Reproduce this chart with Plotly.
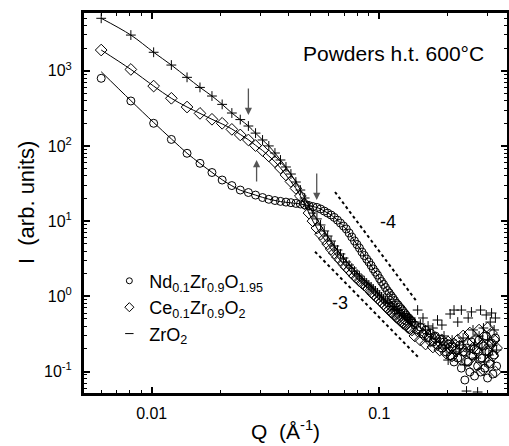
import math
import plotly.graph_objects as go

# ---------------- data ----------------
Q = [0.0060, 0.0081, 0.0102, 0.0122, 0.0143, 0.0163, 0.0184, 0.0204, 0.0225, 0.0245,
     0.0266, 0.0286, 0.0307, 0.0327, 0.0348, 0.0368, 0.0389, 0.0409, 0.0430, 0.0450,
     0.0470, 0.0491, 0.0511, 0.0532, 0.0552, 0.0573, 0.0593, 0.0614, 0.0634, 0.0655,
     0.0675, 0.0696, 0.0716, 0.0737, 0.0757, 0.0778, 0.0798, 0.0818, 0.0839, 0.0859,
     0.0880, 0.0900, 0.0921, 0.0941, 0.0962, 0.0982, 0.1003, 0.1023, 0.1044, 0.1064,
     0.1085, 0.1105, 0.1126, 0.1146, 0.1167, 0.1187, 0.1208, 0.1228, 0.1249, 0.1269,
     0.1290, 0.1310, 0.1331, 0.1351, 0.1372, 0.1392,
     0.1433, 0.1474, 0.1515, 0.1556, 0.1597, 0.1638, 0.1679, 0.1720, 0.1761, 0.1802,
     0.1843, 0.1884, 0.1925, 0.1966, 0.2007, 0.2048, 0.2089, 0.2130, 0.2171, 0.2212,
     0.2253, 0.2294, 0.2335, 0.2376, 0.2417, 0.2458, 0.2499, 0.2540, 0.2581, 0.2622,
     0.2663, 0.2704, 0.2745, 0.2786, 0.2827, 0.2868, 0.2909, 0.2950, 0.2991, 0.3032,
     0.3073, 0.3114, 0.3155, 0.3196, 0.3237, 0.3278]

I_nd = [793, 396, 200, 122, 79.8, 58.7, 44.3, 35.2, 29.7, 25.9,
        24.0, 22.2, 20.6, 19.5, 18.8, 18.3, 17.9, 17.6, 17.2, 16.9,
        16.5, 16.1, 15.6, 15.2, 14.5, 13.6, 12.8, 12.05, 11.2, 10.3,
        9.42, 8.6, 7.86, 6.95, 6.15, 5.45, 4.89, 4.39, 3.88, 3.49,
        3.13, 2.86, 2.57, 2.31, 2.10, 1.92, 1.72, 1.57, 1.44, 1.31,
        1.19, 1.11, 1.02, 0.95, 0.88, 0.81, 0.77, 0.72, 0.68, 0.64,
        0.60, 0.565, 0.53, 0.51, 0.484, 0.46,
        0.415, 0.356, 0.391, 0.315, 0.356, 0.279, 0.325, 0.247, 0.297, 0.225,
        0.271, 0.205, 0.247, 0.182, 0.232, 0.161, 0.212, 0.134, 0.193, 0.151,
        0.225, 0.111, 0.182, 0.0771, 0.205, 0.134, 0.0985, 0.247, 0.161, 0.0871,
        0.193, 0.118, 0.262, 0.0985, 0.151, 0.218, 0.111, 0.297, 0.082, 0.182,
        0.126, 0.239, 0.0926, 0.166, 0.279, 0.118]

I_ce = [1885, 1040, 625, 430, 329, 271, 226, 200, 166, 140,
        120, 101, 87, 73.5, 61.7, 50.9, 41.1, 33.6, 27.3, 21.6,
        16.9, 12.8, 10.0, 8.1, 6.7, 5.8, 4.97, 4.26, 3.77, 3.33,
        3.04, 2.69, 2.45, 2.24, 2.04, 1.86, 1.75, 1.60, 1.50, 1.41,
        1.33, 1.25, 1.14, 1.07, 1.01, 0.95, 0.89, 0.84, 0.79, 0.74,
        0.70, 0.66, 0.62, 0.60, 0.565, 0.53, 0.515, 0.484, 0.47, 0.44,
        0.428, 0.415, 0.39, 0.379, 0.368, 0.357,
        0.297, 0.346, 0.262, 0.315, 0.232, 0.297, 0.254, 0.212, 0.279, 0.225,
        0.193, 0.262, 0.218, 0.176, 0.247, 0.205, 0.161, 0.232, 0.187, 0.262,
        0.151, 0.212, 0.297, 0.182, 0.138, 0.232, 0.325, 0.166, 0.205, 0.118,
        0.262, 0.182, 0.356, 0.151, 0.225, 0.105, 0.297, 0.193, 0.379, 0.134,
        0.225, 0.325, 0.161, 0.262, 0.0985, 0.205]

I_zr = [4980, 2980, 1760, 1190, 817, 600, 461, 357, 274, 224,
        184, 148, 120, 100, 80.5, 65, 52.5, 42.3, 33.1, 25.9,
        20.3, 15.9, 12.8, 10.7, 8.89, 7.4, 6.34, 5.44, 4.67, 4.13,
        3.66, 3.23, 2.86, 2.61, 2.38, 2.17, 1.98, 1.86, 1.70, 1.60,
        1.50, 1.41, 1.33, 1.25, 1.18, 1.11, 1.04, 0.98, 0.92, 0.87,
        0.83, 0.80, 0.74, 0.73, 0.67, 0.66, 0.65, 0.59, 0.59, 0.55,
        0.56, 0.52, 0.52, 0.49, 0.49, 0.46,
        0.455, 0.657, 0.428, 0.515, 0.357, 0.403, 0.315, 0.379, 0.279, 0.484,
        0.247, 0.415, 0.297, 0.205, 0.142, 0.582, 0.262, 0.657, 0.182, 0.455,
        0.225, 0.657, 0.279, 0.122, 0.055, 0.515, 0.193, 0.620, 0.357, 0.225,
        0.151, 0.0534, 0.297, 0.657, 0.205, 0.379, 0.134, 0.565, 0.262, 0.166,
        0.455, 0.60, 0.225, 0.357, 0.515, 0.193]

# fitted curves (solid lines)
Q_fit = [0.0060, 0.0081, 0.0102, 0.0122, 0.0143, 0.0163, 0.0184, 0.0204, 0.0225, 0.0245,
         0.0266, 0.0286, 0.0307, 0.0327, 0.0348, 0.0368, 0.0389, 0.0409, 0.0430, 0.0450,
         0.0470, 0.0491, 0.0511, 0.0532, 0.0552, 0.0573, 0.0614, 0.0655, 0.0696, 0.0737,
         0.0778, 0.0818, 0.0859, 0.0900, 0.0941, 0.0982, 0.1023, 0.1064, 0.1105, 0.1146,
         0.1187, 0.1228, 0.1269, 0.1310]
fit_nd = [970, 400, 205, 124, 80, 58.5, 44.5, 35.5, 29.5, 25.8,
          23.8, 22.2, 20.7, 19.6, 18.8, 18.2, 17.8, 17.5, 17.2, 16.9,
          16.5, 16.1, 15.6, 15.2, 14.5, 13.6, 12.05, 10.3, 8.6, 6.95,
          5.45, 4.39, 3.49, 2.86, 2.31, 1.92, 1.57, 1.31, 1.11, 0.95,
          0.81, 0.72, 0.64, 0.565]
fit_ce = [1885, 1040, 625, 430, 329, 271, 226, 196, 168, 142,
          121, 102, 87, 73.5, 61.7, 50.9, 41.1, 33.6, 27.3, 21.6,
          16.9, 12.8, 10.0, 8.1, 6.7, 5.8, 4.26, 3.33, 2.69, 2.24,
          1.86, 1.60, 1.41, 1.25, 1.07, 0.95, 0.84, 0.74, 0.66, 0.60,
          0.53, 0.484, 0.44, 0.415]
fit_zr = [4980, 2980, 1760, 1190, 817, 600, 461, 357, 274, 224,
          184, 148, 120, 100, 80.5, 65, 52.5, 42.3, 33.1, 25.9,
          20.3, 15.9, 12.8, 10.7, 8.89, 7.4, 5.44, 4.13, 3.23, 2.61,
          2.17, 1.86, 1.60, 1.41, 1.25, 1.11, 0.98, 0.87, 0.79, 0.72,
          0.66, 0.61, 0.56, 0.53]

# power-law guide lines (slopes -4 and -3)
guide4_Q = [0.0639, 0.1466]
guide4_I = [24.4, 0.84]
guide3_Q = [0.0522, 0.148]
guide3_I = [3.92, 0.156]

# arrows (tip position, vertical length in px: negative = pointing down)
arrow_Q = [0.0266, 0.0289, 0.0531]
arrow_I = [258, 64.9, 19.1]
arrow_dy = [-28, 23, -28]

names = ["Nd<sub>0.1</sub>Zr<sub>0.9</sub>O<sub>1.95</sub>",
         "Ce<sub>0.1</sub>Zr<sub>0.9</sub>O<sub>2</sub>",
         "ZrO<sub>2</sub>"]

FONT = "Liberation Sans, Arial, Helvetica, sans-serif"

fig = go.Figure()

for fy in (fit_nd, fit_ce, fit_zr):
    fig.add_trace(go.Scatter(x=Q_fit, y=fy, mode="lines", line=dict(color="black", width=1, shape="spline"),
                             showlegend=False, hoverinfo="skip"))

for gq, gi in ((guide4_Q, guide4_I), (guide3_Q, guide3_I)):
    fig.add_trace(go.Scatter(x=gq, y=gi, mode="lines", line=dict(color="black", width=2, dash="dot"),
                             showlegend=False, hoverinfo="skip"))

series = [(I_nd, "circle-open", 8), (I_ce, "diamond-open", 9), (I_zr, "cross-thin-open", 7)]
for (iy, sym, sz), nm in zip(series, names):
    fig.add_trace(go.Scatter(x=Q, y=iy, mode="markers", name=nm, showlegend=False,
                             marker=dict(symbol=sym, size=sz, color="black", line=dict(width=1, color="black"))))

# legend entries (small symbols, as in the original key)
legend_syms = [("circle-open", 6), ("diamond-open", 7), ("line-ew-open", 6)]
for (sym, sz), nm in zip(legend_syms, names):
    fig.add_trace(go.Scatter(x=[None], y=[None], mode="markers", name=nm,
                             marker=dict(symbol=sym, size=sz, color="black", line=dict(width=1, color="black"))))

annotations = []
for q, i, dy in zip(arrow_Q, arrow_I, arrow_dy):
    annotations.append(dict(x=math.log10(q), y=math.log10(i), xref="x", yref="y", text="",
                            showarrow=True, ax=0, ay=dy, arrowhead=2, arrowsize=1.1,
                            arrowwidth=1.3, arrowcolor="#555555"))
annotations.append(dict(x=math.log10(0.1092), y=math.log10(9.7), text="-4", showarrow=False,
                        font=dict(size=18, family=FONT, color="black")))
annotations.append(dict(x=math.log10(0.0672), y=math.log10(0.815), text="-3", showarrow=False,
                        font=dict(size=18, family=FONT, color="black")))
annotations.append(dict(x=math.log10(0.1149), y=math.log10(1720), text="Powders h.t. 600°C", showarrow=False,
                        font=dict(size=21, family=FONT, color="black")))
# axis titles
annotations.append(dict(xref="paper", yref="paper", x=0.4753, y=-0.1335, xanchor="center", yanchor="bottom",
                        text="Q  (Å<sup>-1</sup>)", showarrow=False, font=dict(size=21, family=FONT, color="black")))
annotations.append(dict(xref="paper", yref="paper", x=-0.134, y=0.50, xanchor="center", yanchor="middle",
                        textangle=-90, text="I  (arb. units)", showarrow=False,
                        font=dict(size=22, family=FONT, color="black")))

axis_common = dict(showline=True, linewidth=2, linecolor="black", mirror="allticks",
                   ticks="inside", ticklen=7, tickwidth=1.5, tickcolor="black",
                   showgrid=False, zeroline=False, automargin=False,
                   minor=dict(ticks="inside", ticklen=4, tickwidth=1, tickcolor="black", dtick="D1", showgrid=False),
                   tickfont=dict(size=16, family=FONT, color="black"))

fig.update_layout(
    width=509, height=446,
    margin=dict(l=83, r=1, t=12, b=52, autoexpand=False),
    paper_bgcolor="white", plot_bgcolor="white",
    font=dict(family=FONT, color="black"),
    xaxis=dict(type="log", range=[-2.3018, -0.4345], tickvals=[0.01, 0.1], ticktext=["0.01", "0.1"],
               ticklabelstandoff=4, **axis_common),
    yaxis=dict(type="log", range=[-1.299, 3.781], tickvals=[0.1, 1, 10, 100, 1000],
               ticktext=["10<sup>-1</sup>", "10<sup>0</sup>", "10<sup>1</sup>", "10<sup>2</sup>", "10<sup>3</sup>"],
               ticklabelstandoff=6, **axis_common),
    legend=dict(x=0.062, y=0.344, xanchor="left", yanchor="top", bgcolor="rgba(0,0,0,0)",
                font=dict(size=18, family=FONT, color="black"), itemwidth=30, tracegroupgap=0),
    annotations=annotations,
    shapes=[dict(type="rect", xref="paper", yref="paper", x0=0, x1=1, y0=0, y1=1,
                 line=dict(color="black", width=2), layer="above")],
)

fig.write_html("out.html", config={"displayModeBar": False},
               post_script="document.body.style.margin='0px';document.body.style.overflow='hidden';")
